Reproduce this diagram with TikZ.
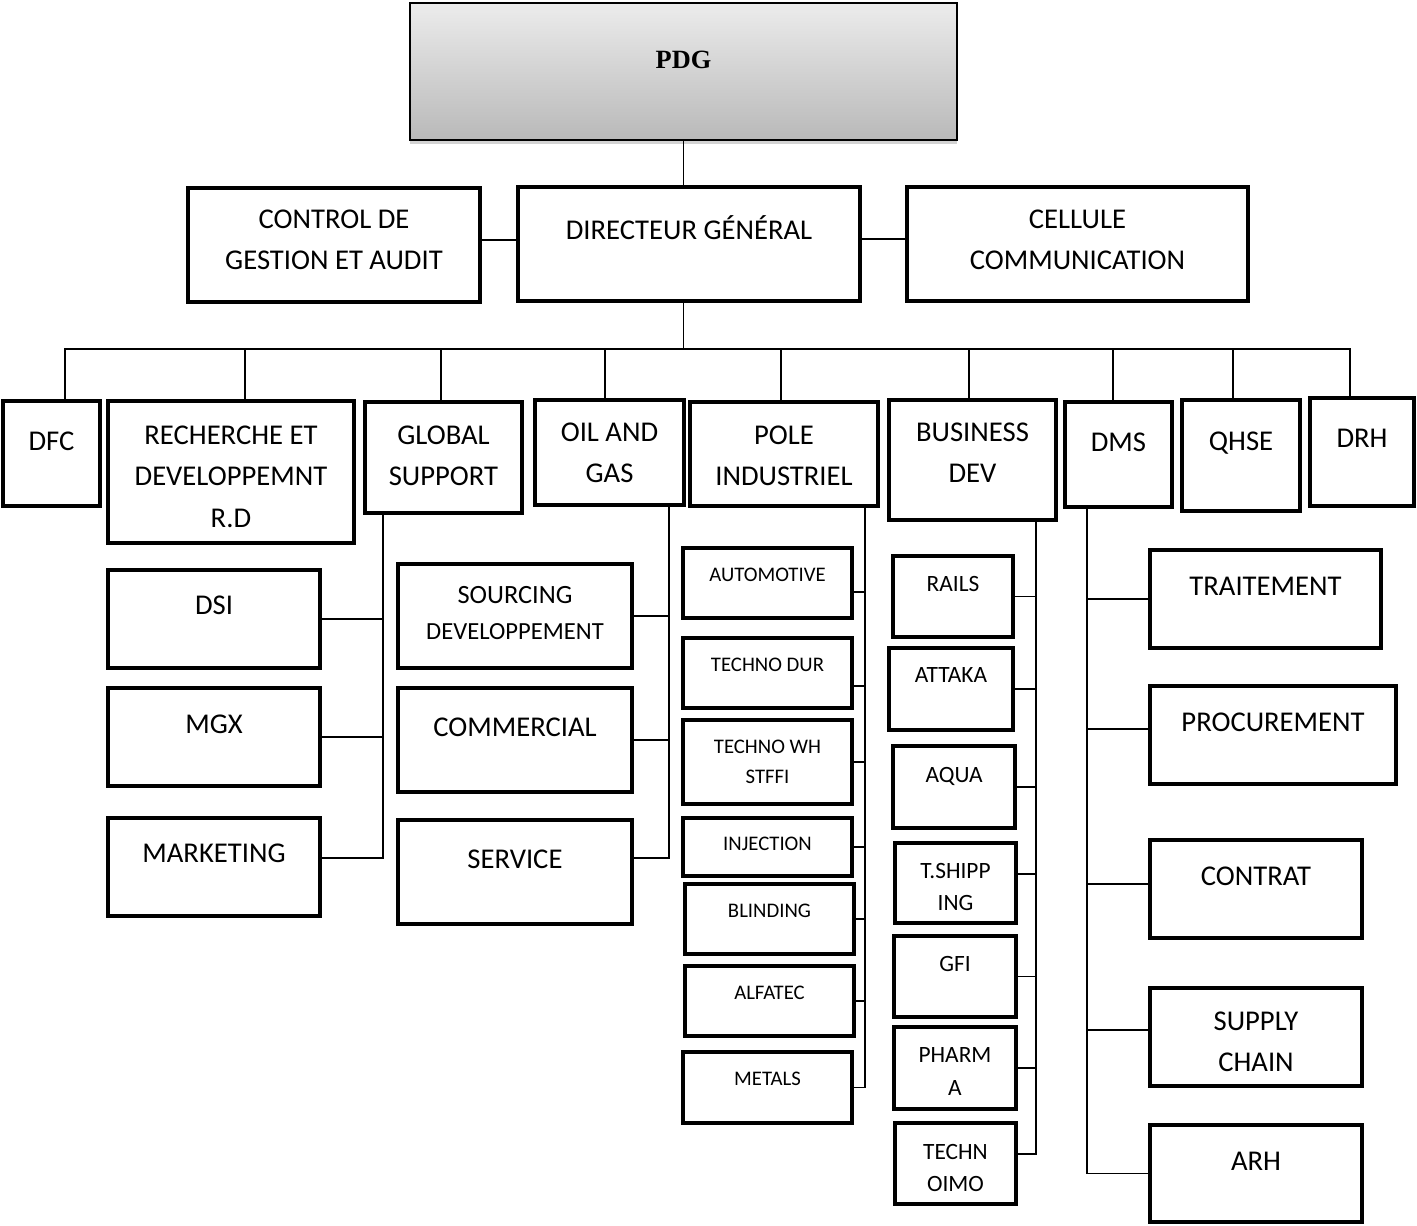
\documentclass[tikz,border=0pt]{standalone}
\usepackage{fontspec}
\setmainfont{Carlito}
\newfontfamily\pdgfont{Liberation Serif}
\usepackage{tikz}
\usetikzlibrary{fit, shadows}

\begin{document}
\begin{tikzpicture}[x=0.02cm, y=-0.02cm,
    box/.style={draw=black, line width=1.9pt, fill=white, inner sep=0pt},
    lbl/.style={anchor=north, inner sep=0pt, yshift=-#1*0.02cm-0.045cm, align=center, font=\fontsize{16.3}{23.5}\selectfont},
    mlbl/.style={lbl=#1, font=\fontsize{13.3}{18.7}\selectfont},
    slbl/.style={lbl=#1, font=\fontsize{11.8}{17}\selectfont},
    link/.style={line width=0.9pt}]
    \useasboundingbox (0,0) rectangle (1417,1225);

    % sommet
    \node[draw=black, line width=1.1pt, inner sep=0pt, top color=gray!15, bottom color=gray!55,
          drop shadow={shadow xshift=0pt, shadow yshift=-2pt, opacity=0.35},
          fit={(410,3) (957,140)}, label={[lbl=46, font=\pdgfont\bfseries\fontsize{15}{18}\selectfont]north:PDG}] (pdg) {};
    \node[box, fit={(188,188) (480,302)}, label={[lbl=21]north:CONTROL DE\\GESTION ET AUDIT}] (cga) {};
    \node[box, fit={(518,187) (860,301)}, label={[lbl=28]north:DIRECTEUR GÉNÉRAL}] (dg) {};
    \node[box, fit={(907,187) (1248,301)}, label={[lbl=22]north:CELLULE\\COMMUNICATION}] (cc) {};
    \coordinate (bus) at (683.5,349);

    % directions
    \node[box, fit={(3,401) (100,506)}, label={[lbl=30]north:DFC}] (dfc) {};
    \node[box, fit={(108,401) (354,543)}, label={[lbl=24]north:RECHERCHE ET\\DEVELOPPEMNT\\R.D}] (rd) {};
    \node[box, fit={(365,402) (522,513)}, label={[lbl=23]north:GLOBAL\\SUPPORT}] (gs) {};
    \node[box, fit={(535,400) (684,505)}, label={[lbl=22]north:OIL AND\\GAS}] (oag) {};
    \node[box, fit={(690,402) (878,506)}, label={[lbl=23]north:POLE\\INDUSTRIEL}] (pi) {};
    \node[box, fit={(889,400) (1056,520)}, label={[lbl=22]north:BUSINESS\\DEV}] (bd) {};
    \node[box, fit={(1065,402) (1172,507)}, label={[lbl=30]north:DMS}] (dms) {};
    \node[box, fit={(1182,400) (1300,511)}, label={[lbl=31]north:QHSE}] (qhse) {};
    \node[box, fit={(1310,398) (1414,506)}, label={[lbl=30]north:DRH}] (drh) {};

    % global support
    \node[box, fit={(108,570) (320,668)}, label={[lbl=25]north:DSI}] (dsi) {};
    \node[box, fit={(108,688) (320,786)}, label={[lbl=26]north:MGX}] (mgx) {};
    \node[box, fit={(108,818) (320,916)}, label={[lbl=25]north:MARKETING}] (mkt) {};

    % oil and gas
    \node[box, fit={(398,564) (632,668)}, label={[lbl=21, font=\fontsize{15}{21}\selectfont]north:SOURCING\\{\fontsize{14}{21}\selectfont DEVELOPPEMENT}}] (src) {};
    \node[box, fit={(398,688) (632,792)}, label={[lbl=29]north:COMMERCIAL}] (com) {};
    \node[box, fit={(398,820) (632,924)}, label={[lbl=29]north:SERVICE}] (srv) {};

    % pole industriel
    \node[box, fit={(683,548) (852,618)}, label={[slbl=19]north:AUTOMOTIVE}] (auto) {};
    \node[box, fit={(683,638) (852,708)}, label={[slbl=19]north:TECHNO DUR}] (tdur) {};
    \node[box, fit={(683,720) (852,804)}, label={[slbl=19]north:TECHNO WH\\STFFI}] (twh) {};
    \node[box, fit={(683,818) (852,876)}, label={[slbl=18]north:INJECTION}] (inj) {};
    \node[box, fit={(685,884) (854,954)}, label={[slbl=19]north:BLINDING}] (bli) {};
    \node[box, fit={(685,966) (854,1036)}, label={[slbl=19]north:ALFATEC}] (alf) {};
    \node[box, fit={(683,1052) (852,1123)}, label={[slbl=19]north:METALS}] (met) {};

    % business dev
    \node[box, fit={(893,556) (1013,637)}, label={[mlbl=19]north:RAILS}] (rails) {};
    \node[box, fit={(889,648) (1013,730)}, label={[mlbl=19]north:ATTAKA}] (attaka) {};
    \node[box, fit={(893,746) (1015,828)}, label={[mlbl=20]north:AQUA}] (aqua) {};
    \node[box, fit={(895,843) (1016,923)}, label={[mlbl=19]north:T.SHIPP\\ING}] (tship) {};
    \node[box, fit={(894,936) (1016,1017)}, label={[mlbl=19]north:GFI}] (gfi) {};
    \node[box, fit={(894,1027) (1016,1109)}, label={[mlbl=20]north:PHARM\\A}] (pharma) {};
    \node[box, fit={(895,1123) (1016,1204)}, label={[mlbl=20]north:TECHN\\OIMO}] (techn) {};

    % dms
    \node[box, fit={(1150,550) (1381,648)}, label={[lbl=26]north:TRAITEMENT}] (trait) {};
    \node[box, fit={(1150,686) (1396,784)}, label={[lbl=26]north:PROCUREMENT}] (proc) {};
    \node[box, fit={(1150,840) (1362,938)}, label={[lbl=26]north:CONTRAT}] (contrat) {};
    \node[box, fit={(1150,988) (1362,1086)}, label={[lbl=23]north:SUPPLY\\CHAIN}] (supply) {};
    \node[box, fit={(1150,1125) (1362,1222)}, label={[lbl=26]north:ARH}] (arh) {};

    % liens du haut
    \draw[link] (pdg.south) -- (pdg.south |- dg.north);
    \draw[link] ([yshift=0.1cm]cga.east) -- ([yshift=0.1cm]cga.east -| dg.west);
    \draw[link] ([yshift=0.1cm]dg.east) -- ([yshift=0.1cm]dg.east -| cc.west);
    \draw[link] (pdg.south |- dg.south) -- (bus);

    % bus des directions
    \draw[link] (dfc.north) ++(13.5,0) |- (bus);
    \draw[link] (rd.north) ++(14,0) |- (bus);
    \draw[link] (gs.north) ++(-2.5,0) |- (bus);
    \draw[link] (oag.north) ++(-4.5,0) |- (bus);
    \draw[link] (pi.north) ++(-3,0) |- (bus);
    \draw[link] (bd.north) ++(-3.5,0) |- (bus);
    \draw[link] (dms.north) ++(-5.5,0) |- (bus);
    \draw[link] (qhse.north) ++(-8,0) |- (bus);
    \draw[link] (drh.north) ++(-12,0) |- (bus);

    % branches
    \draw[link] (gs.south) ++(-60.5,0) |- (dsi.east);
    \draw[link] (gs.south) ++(-60.5,0) |- (mgx.east);
    \draw[link] (gs.south) ++(-60.5,0) |- ([yshift=0.18cm]mkt.east);

    \draw[link] (oag.south) ++(59.5,0) |- (src.east);
    \draw[link] (oag.south) ++(59.5,0) |- (com.east);
    \draw[link] (oag.south) ++(59.5,0) |- ([yshift=0.28cm]srv.east);

    \draw[link] (pi.south) ++(81,0) |- ([yshift=-0.18cm]auto.east);
    \draw[link] (pi.south) ++(81,0) |- ([yshift=-0.26cm]tdur.east);
    \draw[link] (pi.south) ++(81,0) |- (twh.east);
    \draw[link] (pi.south) ++(81,0) |- (inj.east);
    \draw[link] (pi.south) ++(81,0) |- (bli.east);
    \draw[link] (pi.south) ++(81,0) |- (alf.east);
    \draw[link] (pi.south) ++(81,0) |- (met.east);

    \draw[link] (bd.south) ++(63.5,0) |- (rails.east);
    \draw[link] (bd.south) ++(63.5,0) |- (attaka.east);
    \draw[link] (bd.south) ++(63.5,0) |- (aqua.east);
    \draw[link] (bd.south) ++(63.5,0) |- ([yshift=0.18cm]tship.east);
    \draw[link] (bd.south) ++(63.5,0) |- (gfi.east);
    \draw[link] (bd.south) ++(63.5,0) |- (pharma.east);
    \draw[link] (bd.south) ++(63.5,0) |- ([yshift=0.19cm]techn.east);

    \draw[link] (dms.south) ++(-31.5,0) |- (trait.west);
    \draw[link] (dms.south) ++(-31.5,0) |- ([yshift=0.12cm]proc.west);
    \draw[link] (dms.south) ++(-31.5,0) |- ([yshift=0.1cm]contrat.west);
    \draw[link] (dms.south) ++(-31.5,0) |- ([yshift=0.14cm]supply.west);
    \draw[link] (dms.south) ++(-31.5,0) |- (arh.west);
\end{tikzpicture}
\end{document}
